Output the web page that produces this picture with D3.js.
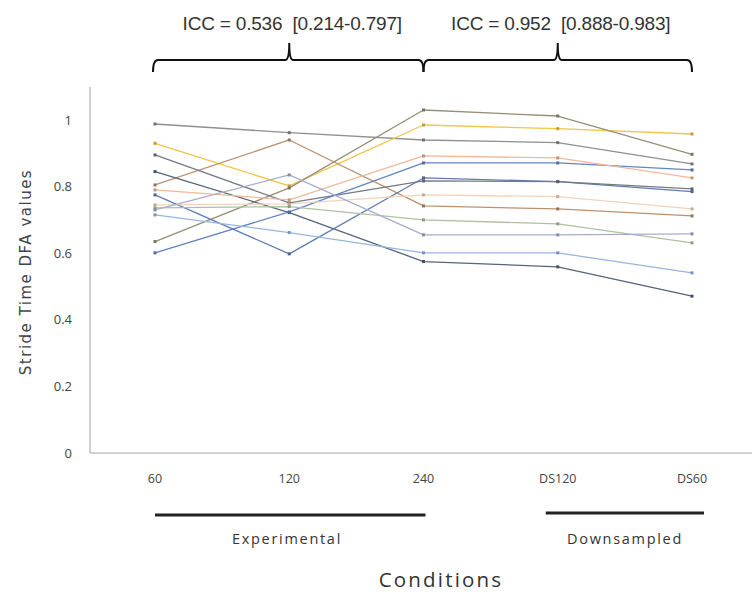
<!DOCTYPE html>
<html>
<head>
<meta charset="utf-8">
<script src="https://cdn.jsdelivr.net/npm/d3@7"></script>
<style>
  html, body { margin: 0; padding: 0; background: #fff; }
  svg { display: block; }
  .pre { white-space: pre; }
</style>
</head>
<body>
<svg id="chart" width="752" height="598"></svg>
<script>
// ---- data ----
const categories = ["60", "120", "240", "DS120", "DS60"];
const yTicks = [0, 0.2, 0.4, 0.6, 0.8, 1];
const yTickLabels = ["0", "0.2", "0.4", "0.6", "0.8", "1"];

const sGrey      = [0.988, 0.962, 0.940, 0.932, 0.868];
const sYellow    = [0.930, 0.802, 0.985, 0.974, 0.958];
const sOlive     = [0.635, 0.796, 1.030, 1.012, 0.897];
const sBrown     = [0.805, 0.940, 0.742, 0.733, 0.712];
const sDarkBlue  = [0.845, 0.722, 0.575, 0.559, 0.471];
const sBlue      = [0.601, 0.724, 0.871, 0.871, 0.850];
const sBlueDip   = [0.775, 0.598, 0.826, 0.815, 0.785];
const sSlate     = [0.895, 0.751, 0.817, 0.815, 0.793];
const sPeach     = [0.790, 0.760, 0.892, 0.886, 0.826];
const sPalePeach = [0.745, 0.748, 0.775, 0.770, 0.733];
const sGreen     = [0.736, 0.740, 0.700, 0.688, 0.631];
const sLightBlue = [0.715, 0.662, 0.601, 0.601, 0.541];
const sLavender  = [0.730, 0.835, 0.655, 0.655, 0.658];

const seriesList = [sGrey, sYellow, sOlive, sBrown, sDarkBlue, sBlue, sBlueDip,
                    sSlate, sPeach, sPalePeach, sGreen, sLightBlue, sLavender];
const seriesColors = ["#8f8f8f", "#f2c445", "#968f78", "#bc916f", "#56637a", "#6485bf", "#5f7bb0",
                      "#767987", "#f0b99b", "#f4d2b8", "#afc1a0", "#97b5e2", "#a5adce"];

const iccLabels = ["ICC = 0.536  [0.214-0.797]", "ICC = 0.952  [0.888-0.983]"];
const groupLabels = ["Experimental", "Downsampled"];
const xTitle = "Conditions";
const yTitle = "Stride Time DFA values";

// ---- drawing ----
const svg = d3.select("#chart");
const x = d3.scalePoint().domain(categories).range([155, 692]);
const y = d3.scaleLinear().domain([0, 1.1]).range([453, 86.7]);

// axes lines
svg.append("line").attr("x1", 90).attr("x2", 90).attr("y1", y(1.1)).attr("y2", y(0))
  .attr("stroke", "#c4c4c4").attr("stroke-width", 1.6);
svg.append("line").attr("x1", 90).attr("x2", 752).attr("y1", y(0)).attr("y2", y(0))
  .attr("stroke", "#c4c4c4").attr("stroke-width", 1.6);

// y tick labels
svg.append("g").selectAll("text").data(yTicks).join("text")
  .attr("x", 72).attr("y", d => y(d)).attr("dy", "0.35em")
  .attr("text-anchor", "end")
  .attr("font-family", "Open Sans, sans-serif").attr("font-size", 13).attr("fill", "#444")
  .text((d, i) => yTickLabels[i]);

// x tick labels
svg.append("g").selectAll("text").data(categories).join("text")
  .attr("x", d => x(d)).attr("y", 479).attr("dy", "0.35em")
  .attr("text-anchor", "middle")
  .attr("font-family", "Open Sans, sans-serif").attr("font-size", 12.5).attr("fill", "#444")
  .text(d => d);

// y title
svg.append("text")
  .attr("transform", "translate(26,272) rotate(-90)")
  .attr("text-anchor", "middle").attr("dy", "0.35em")
  .attr("font-family", "DejaVu Sans, sans-serif").attr("font-size", 15).attr("fill", "#444")
  .attr("letter-spacing", 1.5)
  .text(yTitle);

// lines
const line = d3.line().x((d, i) => x(categories[i])).y(d => y(d));
const g = svg.append("g");
seriesList.forEach((s, k) => {
  g.append("path").attr("d", line(s)).attr("fill", "none")
    .attr("stroke", seriesColors[k]).attr("stroke-width", 1.3).attr("stroke-linejoin", "round");
});
seriesList.forEach((s, k) => {
  g.selectAll(null).data(s).join("rect")
    .attr("x", (d, i) => x(categories[i]) - 1.5).attr("y", d => y(d) - 1.5)
    .attr("width", 3).attr("height", 3)
    .attr("fill", d3.color(seriesColors[k]).darker(0.6));
});

// braces on top
const bTop = 60, bEnd = 72, bPeak = 43;
function bracePath(xa, xb, xc) {
  return `M${xa},${bEnd} Q${xa},${bTop} ${xa + 5},${bTop} L${xb - 4},${bTop} Q${xb},${bTop} ${xb},${bPeak} ` +
         `Q${xb},${bTop} ${xb + 4},${bTop} L${xc - 5},${bTop} Q${xc},${bTop} ${xc},${bEnd}`;
}
svg.append("path").attr("d", bracePath(x("60") - 2, x("120"), x("240")))
  .attr("fill", "none").attr("stroke", "#111").attr("stroke-width", 2);
svg.append("path").attr("d", bracePath(x("240"), x("DS120"), x("DS60")))
  .attr("fill", "none").attr("stroke", "#111").attr("stroke-width", 2);

svg.append("g").selectAll("text").data(iccLabels).join("text")
  .attr("class", "pre")
  .attr("x", (d, i) => i === 0 ? x("120") + 3 : x("DS120") + 3).attr("y", 23).attr("dy", "0.35em")
  .attr("text-anchor", "middle")
  .attr("font-family", "Liberation Sans, Arial, sans-serif").attr("font-size", 19).attr("fill", "#333")
  .attr("letter-spacing", -0.2)
  .text(d => d);

// group bars under the axis
svg.append("line").attr("x1", x("60")).attr("x2", x("240") + 2).attr("y1", 515).attr("y2", 515)
  .attr("stroke", "#222").attr("stroke-width", 3);
svg.append("line").attr("x1", x("DS120") - 12).attr("x2", x("DS60") + 12).attr("y1", 513).attr("y2", 513)
  .attr("stroke", "#222").attr("stroke-width", 3);
svg.append("g").selectAll("text").data(groupLabels).join("text")
  .attr("x", (d, i) => i === 0 ? 287 : 625).attr("y", 539).attr("dy", "0.35em")
  .attr("text-anchor", "middle")
  .attr("font-family", "Open Sans, sans-serif").attr("font-size", 14.5).attr("fill", "#333")
  .attr("letter-spacing", 1.7)
  .text(d => d);

svg.append("text").attr("x", 441).attr("y", 580).attr("dy", "0.35em")
  .attr("text-anchor", "middle")
  .attr("font-family", "Open Sans, sans-serif").attr("font-size", 20.5).attr("fill", "#333")
  .attr("letter-spacing", 2.2)
  .text(xTitle);
</script>
</body>
</html>
